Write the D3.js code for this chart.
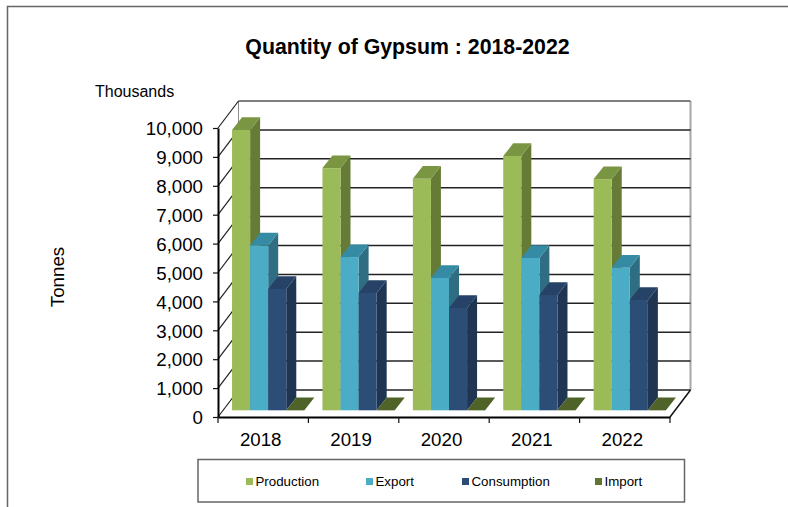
<!DOCTYPE html>
<html lang="en">
<head>
<meta charset="UTF-8">
<title>Quantity of Gypsum : 2018-2022</title>
<script src="https://d3js.org/d3.v7.min.js"></script>
<style>
    html, body { margin: 0; padding: 0; background: #fff; overflow: hidden; }
    svg { display: block; }
    text { font-family: "Liberation Sans", Arial, sans-serif; fill: #000; }
</style>
</head>
<body>
<div id="chart"></div>
<script>
// Values in thousand tonnes
const years = ["2018", "2019", "2020", "2021", "2022"];
const production = [9700, 8380, 8010, 8800, 8000];
const exportQty = [5700, 5300, 4580, 5270, 4930];
const consumption = [4200, 4060, 3540, 3990, 3820];
const importQty = [5, 5, 5, 5, 5];
const seriesNames = ["Production", "Export", "Consumption", "Import"];
const seriesValues = [production, exportQty, consumption, importQty];
const yTicks = [0, 1000, 2000, 3000, 4000, 5000, 6000, 7000, 8000, 9000, 10000];

// front, top and side colours per series
const colors = [
    {front: "#9bbb59", top: "#7b9642", side: "#667c36", key: "#9bbb59"},
    {front: "#4bacc6", top: "#358ba3", side: "#2f6d82", key: "#4bacc6"},
    {front: "#2c4d75", top: "#264266", side: "#1f3552", key: "#2c4d75"},
    {front: "#5f7530", top: "#4f6228", side: "#4f6228", key: "#5f7530"}
];

const svg = d3.select("#chart").append("svg").attr("width", 788).attr("height", 507);

// Outer border: left and top only, the rest is cropped
svg.append("path").attr("d", "M7.5,507V6.5H788").attr("fill", "none")
    .attr("stroke", "#666").attr("stroke-width", 1.5);

svg.append("text").attr("x", 407.5).attr("y", 53.5).attr("text-anchor", "middle")
    .style("font-size", "21.3px").style("font-weight", "bold").text("Quantity of Gypsum : 2018-2022");
svg.append("text").attr("x", 95).attr("y", 97).style("font-size", "16px").text("Thousands");
svg.append("text").attr("transform", "translate(64,277) rotate(-90)").attr("text-anchor", "middle")
    .style("font-size", "18.7px").text("Tonnes");

// Scales
const x0 = d3.scaleBand().domain(years).range([218, 670]).paddingInner(0.2).paddingOuter(0.1);
const x1 = d3.scaleBand().domain(seriesNames).range([0, x0.bandwidth()]);
const y = d3.scaleLinear().domain([0, 10000]).range([417, 128]);

// 3D offsets: whole floor depth, bar position on the floor, bar depth
const wall = {dx: 20.5, dy: 27};
const floor = {dx: 5, dy: -6.7};
const depth = {dx: 10, dy: -12.7};

const xLeft = x0.range()[0], xRight = x0.range()[1];

// Back wall right and left edges
svg.append("line").attr("x1", xRight + wall.dx).attr("x2", xRight + wall.dx)
    .attr("y1", y(10000) - wall.dy).attr("y2", y(0) - wall.dy)
    .attr("stroke", "#a6a6a6").attr("stroke-width", 2);
svg.append("line").attr("x1", xLeft + wall.dx).attr("x2", xLeft + wall.dx)
    .attr("y1", y(10000) - wall.dy).attr("y2", y(0) - wall.dy)
    .attr("stroke", "#8c8c8c").attr("stroke-width", 1);

// Grid on back wall and side wall
const grid = svg.append("g").selectAll("g").data(yTicks).enter().append("g");
grid.append("line")
    .attr("x1", xLeft + wall.dx).attr("x2", xRight + wall.dx)
    .attr("y1", d => y(d) - wall.dy).attr("y2", d => y(d) - wall.dy)
    .attr("stroke", d => d === 10000 ? "#555" : "#222").attr("stroke-width", 1.5);
grid.append("line")
    .attr("x1", xLeft).attr("x2", xLeft + wall.dx)
    .attr("y1", d => y(d)).attr("y2", d => y(d) - wall.dy)
    .attr("stroke", "#222").attr("stroke-width", 1.2);

// Floor right edge
svg.append("line").attr("x1", xRight).attr("x2", xRight + wall.dx)
    .attr("y1", y(0)).attr("y2", y(0) - wall.dy)
    .attr("stroke", "#111").attr("stroke-width", 1.5);

// Bars, left to right so each front covers the side of the one before
years.forEach((year, i) => {
    seriesNames.forEach((name, s) => {
        const v = seriesValues[s][i];
        const w = x1.bandwidth();
        const left = x0(year) + x1(name) + floor.dx;
        const right = left + w;
        const top = y(v) + floor.dy;
        const base = y(0) + floor.dy;
        const g = svg.append("g");
        g.append("path")
            .attr("d", `M${right},${top}l${depth.dx},${depth.dy}V${base + depth.dy}L${right},${base}Z`)
            .attr("fill", colors[s].side);
        g.append("path")
            .attr("d", `M${left},${top}l${depth.dx},${depth.dy}H${right + depth.dx}L${right},${top}Z`)
            .attr("fill", colors[s].top);
        g.append("rect")
            .attr("x", left).attr("y", top).attr("width", w).attr("height", base - top)
            .attr("fill", colors[s].front);
    });
});

// Axes
const yAxis = svg.append("g").attr("transform", `translate(${xLeft},0)`)
    .call(d3.axisLeft(y).tickValues(yTicks).tickFormat(d3.format(",")).tickSize(5).tickSizeOuter(0).tickPadding(10));
yAxis.selectAll("text").style("font-size", "18.7px").attr("dy", "0.36em");
yAxis.selectAll("line").attr("stroke", "#111").attr("stroke-width", 1.2);
yAxis.select(".domain").attr("stroke", "#000").attr("stroke-width", 2);

const xAxis = svg.append("g").attr("transform", `translate(0,${y(0)})`)
    .call(d3.axisBottom(x0).tickSize(0).tickPadding(16));
xAxis.selectAll("text").style("font-size", "18.7px").attr("dx", -2.5).attr("dy", "0.71em");
xAxis.select(".domain").attr("stroke", "#000").attr("stroke-width", 2);

// Category boundary ticks
svg.append("g").selectAll("line").data(d3.range(years.length + 1)).enter().append("line")
    .attr("x1", d => xLeft + d * x0.step()).attr("x2", d => xLeft + d * x0.step())
    .attr("y1", y(0)).attr("y2", y(0) + 6)
    .attr("stroke", "#111").attr("stroke-width", 1.2);

// Legend
svg.append("rect").attr("x", 198).attr("y", 459.5).attr("width", 486.5).attr("height", 42.5)
    .attr("fill", "#fff").attr("stroke", "#666").attr("stroke-width", 1.5);
const legendX = d3.scaleOrdinal().domain(seriesNames).range([246, 366, 462, 595]);
const legend = svg.append("g").selectAll("g").data(seriesNames).enter().append("g")
    .attr("transform", d => `translate(${legendX(d)},481.5)`);
legend.append("rect").attr("x", 0).attr("y", -3.5).attr("width", 7).attr("height", 7)
    .attr("fill", (d, i) => colors[i].key);
legend.append("text").attr("x", 9.5).attr("y", 4.8).style("font-size", "13.3px").text(d => d);
</script>
</body>
</html>
